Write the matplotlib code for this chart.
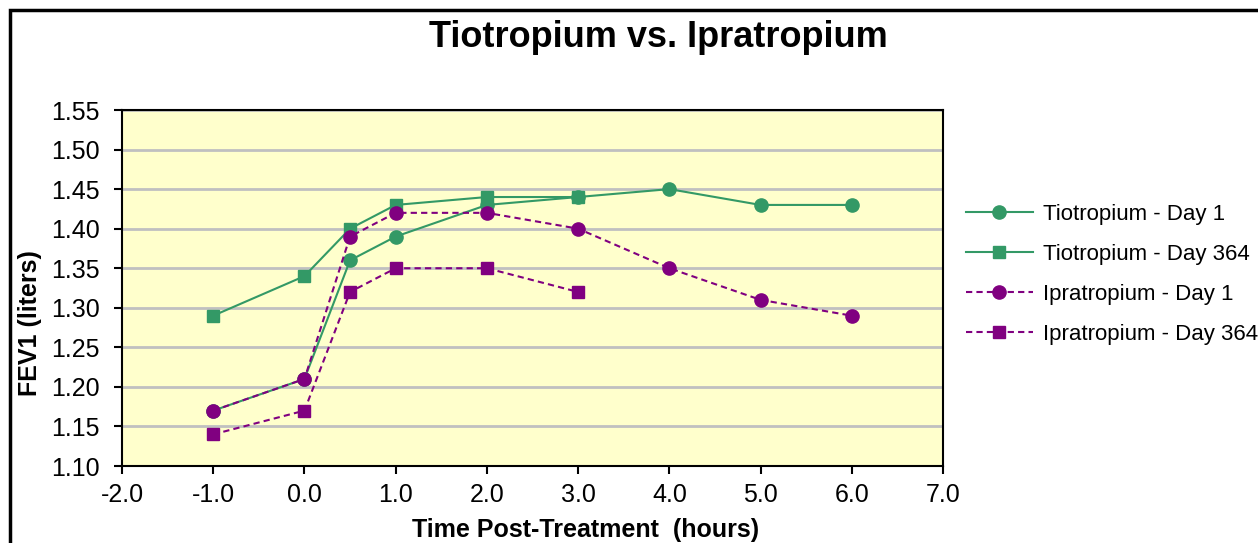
import numpy as np
import matplotlib.pyplot as plt
from matplotlib.patches import Rectangle

plt.rcParams['font.family'] = ['Liberation Sans', 'DejaVu Sans']

# data
x_full = [-1.0, 0.0, 0.5, 1.0, 2.0, 3.0, 4.0, 5.0, 6.0]
x_short = [-1.0, 0.0, 0.5, 1.0, 2.0, 3.0]
tio_day1 = [1.17, 1.21, 1.36, 1.39, 1.43, 1.44, 1.45, 1.43, 1.43]
tio_day364 = [1.29, 1.34, 1.40, 1.43, 1.44, 1.44]
ipr_day1 = [1.17, 1.21, 1.39, 1.42, 1.42, 1.40, 1.35, 1.31, 1.29]
ipr_day364 = [1.14, 1.17, 1.32, 1.35, 1.35, 1.32]
xticks = np.arange(-2.0, 7.01, 1.0)
yticks = np.arange(1.10, 1.5501, 0.05)

green = '#339966'
purple = '#800080'

fig = plt.figure(figsize=(12.58, 5.43), dpi=100)
ax = fig.add_axes([122/1258, 1-466/543, (943-122)/1258, (466-110)/543])
ax.set_facecolor('#FFFFCC')

ax.plot(x_full, tio_day1, color=green, lw=1.5, marker='o', ms=9.5,
        label='Tiotropium - Day 1')
ax.plot(x_short, tio_day364, color=green, lw=1.5, marker='s', ms=8.5,
        label='Tiotropium - Day 364')
ax.plot(x_full, ipr_day1, color=purple, lw=1.5, ls=(0, (3, 2)), marker='o', ms=9.5,
        label='Ipratropium - Day 1')
ax.plot(x_short, ipr_day364, color=purple, lw=1.5, ls=(0, (3, 2)), marker='s', ms=8.5,
        label='Ipratropium - Day 364')

ax.set_xlim(-2, 7)
ax.set_ylim(1.10, 1.55)
ax.set_xticks(xticks)
ax.set_xticklabels(['%.1f' % v for v in xticks])
ax.set_yticks(yticks)
ax.set_yticklabels(['%.2f' % v for v in yticks])
ax.tick_params(direction='out', length=6, width=1.5, labelsize=18)
ax.tick_params(axis='y', pad=10)
ax.tick_params(axis='x', pad=6)
ax.yaxis.grid(True, color='#C0C0C0', lw=2)
ax.set_axisbelow(True)
for s in ax.spines.values():
    s.set_linewidth(1.5)
    s.set_color('black')

fig.text(586/1258, 1-537/543, 'Time Post-Treatment  (hours)', fontsize=18,
         fontweight='bold', ha='center', va='baseline')
fig.text(30/1258, 1-323/543, 'FEV1 (liters)', fontsize=18, fontweight='bold',
         rotation=90, ha='center', va='center')
fig.text(658/1258, 1-47/543, 'Tiotropium vs. Ipratropium', fontsize=26, fontweight='bold',
         ha='center', va='baseline')

fig.legend(loc='upper left', bbox_to_anchor=(946/1258, 1-184/543), frameon=False,
           fontsize=16, handlelength=3.0, labelspacing=0.85, handletextpad=0.45)

fig.patches.append(Rectangle((10/1258, -0.1), 1.2, 1-10/543+0.1, transform=fig.transFigure,
                             fill=False, ec='black', lw=2.5, clip_on=False))

fig.savefig('out.png', dpi=100)
